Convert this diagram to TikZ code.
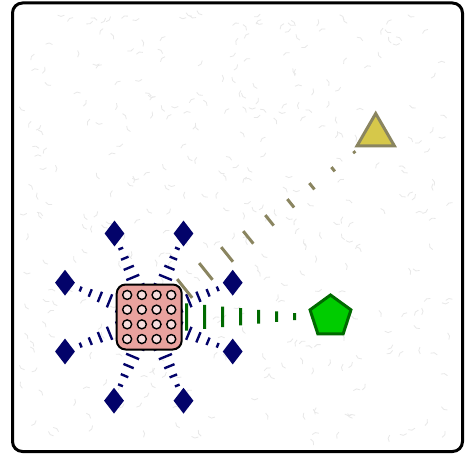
\documentclass[tikz,border=0pt]{standalone}
\usetikzlibrary{shapes.geometric,calc}
\definecolor{navyc}{HTML}{03036A}
\definecolor{hubfill}{HTML}{E9A29E}
\definecolor{dotfill}{HTML}{F7DDDD}
\definecolor{greenfill}{HTML}{00CC00}
\definecolor{greendark}{HTML}{006A00}
\definecolor{olivec}{HTML}{8A8560}
\definecolor{trifill}{HTML}{D6C84A}
\definecolor{squigc}{HTML}{E8E8E8}
\pgfdeclarelayer{bg}
\pgfdeclarelayer{conn}
\pgfsetlayers{bg,conn,main}
\newcommand\taperdash[8]{%
  \path (#1); \pgfgetlastxy{\tdax}{\tday}%
  \path (#2); \pgfgetlastxy{\tdbx}{\tdby}%
  \pgfmathsetmacro\tdL{veclen(\tdbx-\tdax,\tdby-\tday)}%
  \pgfmathtruncatemacro\tdN{floor((\tdL-#6-#7)/#5)}%
  \foreach \k in {0,...,\tdN}{%
    \pgfmathsetmacro\tda{(#6+\k*#5)/\tdL}%
    \pgfmathsetmacro\tdb{(#6+\k*#5+#8)/\tdL}%
    \pgfmathsetmacro\tdw{#4*(1-\tda)}%
    \draw[#3,line width=\tdw pt,line cap=butt] ($(#1)!\tda!(#2)$) -- ($(#1)!\tdb!(#2)$);
  }%
}
\tikzset{
  frame/.style={draw=black,line width=3pt,fill=white,rounded corners=10pt},
  squig/.style={draw=squigc,line width=0.8pt},
  hubbox/.style={rectangle,draw=black,line width=2pt,fill=hubfill,rounded corners=9pt,minimum size=65pt,inner sep=0pt},
  hubdot/.style={circle,draw=black,line width=1.4pt,fill=dotfill,minimum size=9pt,inner sep=0pt},
  dmd/.style={diamond,fill=navyc,draw=none,minimum width=20pt,minimum height=26pt,inner sep=0pt},
  pentnode/.style={regular polygon,regular polygon sides=5,minimum size=43pt,inner sep=0pt,fill=greenfill,draw=greendark,line width=3pt},
  trinode/.style={regular polygon,regular polygon sides=3,minimum size=43pt,inner sep=0pt,fill=trifill,draw=olivec,line width=3pt},
  blueconn/.style={draw=navyc},
  greenconn/.style={draw=greendark},
  oliveconn/.style={draw=olivec}
}
\begin{document}
\begin{tikzpicture}[x=1pt,y=-1pt]
\useasboundingbox (0,0) rectangle (465,460);
% nodes
\node[hubbox] (hub) at (149.2,317) {};
\foreach \i/\j [count=\n] in {-22.05/-22.05,-7.35/-22.05,7.35/-22.05,22.05/-22.05,
  -22.05/-7.35,-7.35/-7.35,7.35/-7.35,22.05/-7.35,
  -22.05/7.35,-7.35/7.35,7.35/7.35,22.05/7.35,
  -22.05/22.05,-7.35/22.05,7.35/22.05,22.05/22.05}
  \node[hubdot] (dot\n) at ($(hub)+(\i,\j)$) {};
\node[dmd] (d1) at (114.5,233.5) {};
\node[dmd] (d2) at (183.5,233.5) {};
\node[dmd] (d3) at (65,282.7) {};
\node[dmd] (d4) at (232.7,282.7) {};
\node[dmd] (d5) at (65,351.5) {};
\node[dmd] (d6) at (232.7,351.5) {};
\node[dmd] (d7) at (114,400.7) {};
\node[dmd] (d8) at (183.5,400.7) {};
\node[pentnode] (pent) at (330.5,316.5) {};
\node[trinode] (tri) at (375.7,135) {};
% background
\begin{pgfonlayer}{bg}
\path[frame] (12.5,3) rectangle (462.5,451.5);
\pgfmathsetseed{11}
\foreach \i in {1,...,380}{
  \pgfmathsetmacro\px{22+rnd*430}
  \pgfmathsetmacro\py{14+rnd*428}
  \pgfmathsetmacro\ang{rnd*360}
  \draw[squig] (\px,\py) arc[start angle=\ang, end angle=\ang+85, radius=5];
}
\end{pgfonlayer}
% connectors
\begin{pgfonlayer}{conn}
\foreach \d in {d1,d2,d3,d4,d5,d6,d7,d8}{
  \taperdash{hub}{\d}{blueconn}{26}{10.4}{0}{11}{2.4}
}
\taperdash{hub}{pent}{greenconn}{34}{18}{0}{15}{3}
\taperdash{hub}{tri}{oliveconn}{28.3}{27.2}{16.8}{20}{3}
\end{pgfonlayer}
\end{tikzpicture}
\end{document}
